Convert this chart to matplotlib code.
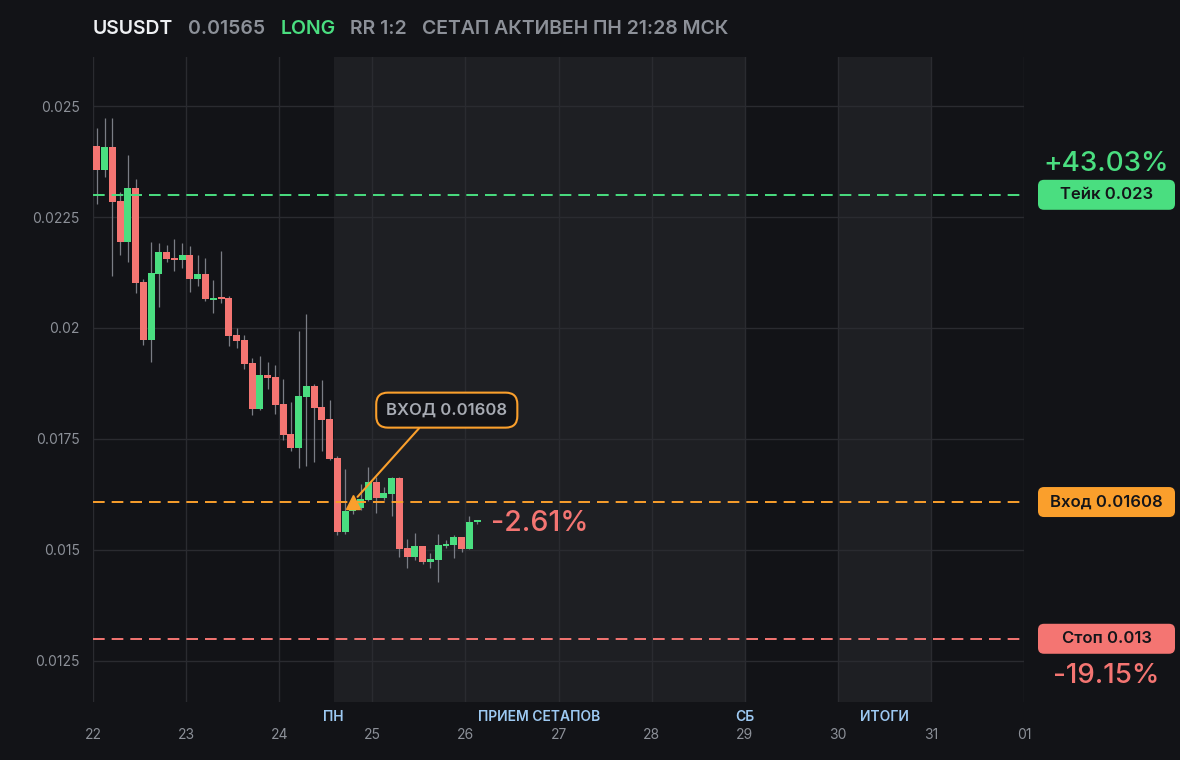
import numpy as np
import matplotlib
matplotlib.use('Agg')
import matplotlib.pyplot as plt
from matplotlib.patches import FancyBboxPatch
from matplotlib.transforms import IdentityTransform, blended_transform_factory

plt.rcParams['font.family'] = ['Inter', 'DejaVu Sans']

# header
symbol = 'USUSDT'
last_price = '0.01565'
side = 'LONG'
rr_text = 'RR 1:2'
status_text = 'СЕТАП АКТИВЕН ПН 21:28 МСК'

# 2h candles starting 22nd 00:00
day_start = 22
candle_step = 1.0 / 12
opens = [0.02410, 0.02356, 0.02408, 0.02286, 0.02194, 0.02315, 0.02104, 0.01974, 0.02122, 0.02171,
         0.02158, 0.02154, 0.02164, 0.02111, 0.02122, 0.02064, 0.02068, 0.02068, 0.01984, 0.01973,
         0.01921, 0.01818, 0.01894, 0.01890, 0.01829, 0.01761, 0.01730, 0.01845, 0.01869, 0.01822,
         0.01795, 0.01707, 0.01541, 0.01588, 0.01595, 0.01613, 0.01653, 0.01617, 0.01627, 0.01662,
         0.01504, 0.01484, 0.01509, 0.01473, 0.01477, 0.01509, 0.01511, 0.01529, 0.01502, 0.01563]
highs = [0.02450, 0.02472, 0.02472, 0.02306, 0.02390, 0.02336, 0.02110, 0.02193, 0.02191, 0.02187,
         0.02200, 0.02191, 0.02185, 0.02164, 0.02158, 0.02108, 0.02173, 0.02071, 0.02000, 0.01984,
         0.01932, 0.01937, 0.01923, 0.01917, 0.01885, 0.01833, 0.01993, 0.02032, 0.01874, 0.01883,
         0.01838, 0.01712, 0.01682, 0.01612, 0.01649, 0.01687, 0.01664, 0.01642, 0.01664, 0.01664,
         0.01525, 0.01538, 0.01509, 0.01493, 0.01536, 0.01522, 0.01534, 0.01529, 0.01577, 0.01566]
lows = [0.02279, 0.02339, 0.02116, 0.02164, 0.02149, 0.02079, 0.01962, 0.01924, 0.02048, 0.02149,
        0.02129, 0.02136, 0.02080, 0.02095, 0.02061, 0.02034, 0.02057, 0.01960, 0.01956, 0.01908,
        0.01804, 0.01815, 0.01863, 0.01806, 0.01748, 0.01723, 0.01685, 0.01690, 0.01698, 0.01723,
        0.01703, 0.01534, 0.01536, 0.01580, 0.01590, 0.01611, 0.01583, 0.01613, 0.01577, 0.01484,
        0.01459, 0.01477, 0.01468, 0.01459, 0.01428, 0.01505, 0.01482, 0.01495, 0.01502, 0.01558]
closes = [0.02356, 0.02408, 0.02284, 0.02194, 0.02315, 0.02102, 0.01974, 0.02124, 0.02171, 0.02156,
          0.02154, 0.02164, 0.02111, 0.02122, 0.02065, 0.02068, 0.02065, 0.01983, 0.01971, 0.01920,
          0.01818, 0.01894, 0.01887, 0.01827, 0.01759, 0.01730, 0.01847, 0.01869, 0.01820, 0.01793,
          0.01705, 0.01541, 0.01588, 0.01592, 0.01615, 0.01653, 0.01617, 0.01628, 0.01662, 0.01502,
          0.01484, 0.01509, 0.01473, 0.01480, 0.01511, 0.01514, 0.01529, 0.01502, 0.01563, 0.01565]

# setup levels
take_price = 0.023
entry_price = 0.01608
stop_price = 0.013
take_pct = '+43.03%'
stop_pct = '-19.15%'
current_pct = '-2.61%'
entry_candle = 33

day_ticks = [22, 23, 24, 25, 26, 27, 28, 29, 30, 31, 32]
day_labels = ['22', '23', '24', '25', '26', '27', '28', '29', '30', '31', '01']
y_ticks = [0.0125, 0.015, 0.0175, 0.02, 0.0225, 0.025]
y_labels = ['0.0125', '0.015', '0.0175', '0.02', '0.0225', '0.025']

session_start = day_start + 31 * candle_step
session_spans = [(session_start, 29), (30, 31)]
session_names = ['ПН', 'ПРИЕМ СЕТАПОВ', 'СБ', 'ИТОГИ']
session_pos = [session_start, (session_start + 29) / 2, 29, 30.5]

# colors
bg = '#121317'
shade = '#1e1f23'
grid_c = '#2a2b30'
green = '#4ade80'
red = '#f47572'
orange = '#fa9f2c'
wick_c = '#7a7d85'
gray = '#8c9098'
blue = '#9dc9f2'

W, H = 1180, 760
fig = plt.figure(figsize=(W / 100, H / 100), dpi=100, facecolor=bg)
ax = fig.add_axes([93 / W, 1 - 702 / H, (1024 - 93) / W, (702 - 57) / H])
ax.set_facecolor(bg)

for a, b in session_spans:
    ax.axvspan(a, b, color=shade, zorder=0, lw=0)

for d in day_ticks:
    ax.axvline(d, color=grid_c, lw=1.0, zorder=0.5)
for yv in y_ticks:
    ax.axhline(yv, color=grid_c, lw=1.0, zorder=0.5)

o = np.array(opens)
h = np.array(highs)
l = np.array(lows)
c = np.array(closes)
t = day_start + (np.arange(len(o)) + 0.5) * candle_step
up = c >= o
cols = np.where(up, green, red)

ax.vlines(t, l, h, color=wick_c, lw=0.9, zorder=2)
body_low = np.minimum(o, c)
body_h = np.maximum(np.abs(c - o), 0.00004)
ax.bar(t, body_h, bottom=body_low, width=candle_step * 0.9, color=cols, lw=0, zorder=3)

# levels
for price, col in [(take_price, green), (entry_price, orange), (stop_price, red)]:
    ax.axhline(price, color=col, lw=1.4, dashes=(6, 3.6), zorder=4)

t_entry = t[entry_candle]
ax.annotate('ВХОД 0.01608', xy=(t_entry, entry_price), xytext=(25.80, 0.01815),
            textcoords='data', ha='center', va='center', fontsize=12, fontweight='semibold',
            color='#a7abb3', zorder=7,
            bbox=dict(boxstyle='round,pad=0.6,rounding_size=0.7', fc=bg, ec=orange, lw=1.5),
            arrowprops=dict(arrowstyle='-', color=orange, lw=1.5, relpos=(0.35, 0), shrinkA=0, shrinkB=5))
ax.plot([t_entry], [entry_price], marker='^', ms=10, color=orange, mec=orange, zorder=8, lw=0)

ax.annotate(current_pct, xy=(t[-1], closes[-1]), xytext=(10, -2), textcoords='offset points',
            ha='left', va='center', fontsize=20.5, fontweight='medium', color=red, zorder=7)

ax.set_xlim(22, 32)
ax.set_ylim(0.011576, 0.026104)
ax.set_xticks(day_ticks)
ax.set_xticklabels(day_labels)
ax.set_yticks(y_ticks)
ax.set_yticklabels(y_labels)
ax.tick_params(axis='both', length=0, colors=gray, labelsize=10)
ax.tick_params(axis='y', pad=9.5)
ax.tick_params(axis='x', pad=19)
for s in ax.spines.values():
    s.set_visible(False)

trans = blended_transform_factory(ax.transData, ax.transAxes)
for name, xp in zip(session_names, session_pos):
    ax.text(xp, -0.0233, name, transform=trans, ha='center', va='center',
            fontsize=10, fontweight='semibold', color=blue, clip_on=False)

# right side badges
def badge(price, label, col, pct=None, pct_dy=0):
    ypix = ax.transData.transform((25, price))[1]
    box = FancyBboxPatch((1038, ypix - 15), 137, 30, boxstyle='round,pad=0,rounding_size=6',
                         fc=col, ec='none', transform=IdentityTransform())
    fig.add_artist(box)
    fig.text(1106.5 / W, ypix / H, label, ha='center', va='center', fontsize=12,
             fontweight='semibold', color='#141519')
    if pct:
        fig.text(1106 / W, (ypix + pct_dy) / H, pct, ha='center', va='center', fontsize=20,
                 fontweight='medium', color=col)

badge(take_price, 'Тейк 0.023', green, take_pct, 31)
badge(entry_price, 'Вход 0.01608', orange)
badge(stop_price, 'Стоп 0.013', red, stop_pct, -37)

# header line
renderer = fig.canvas.get_renderer()
x = 93 / W
for txt, col in [(symbol, '#eef0f3'), (last_price, gray), (side, green), (rr_text, gray), (status_text, gray)]:
    tt = fig.text(x, 1 - 29 / H, txt, ha='left', va='center', fontsize=14,
                  fontweight='semibold', color=col)
    x = (tt.get_window_extent(renderer).x1 + 15) / W

fig.savefig('out.png', dpi=100, facecolor=bg)
